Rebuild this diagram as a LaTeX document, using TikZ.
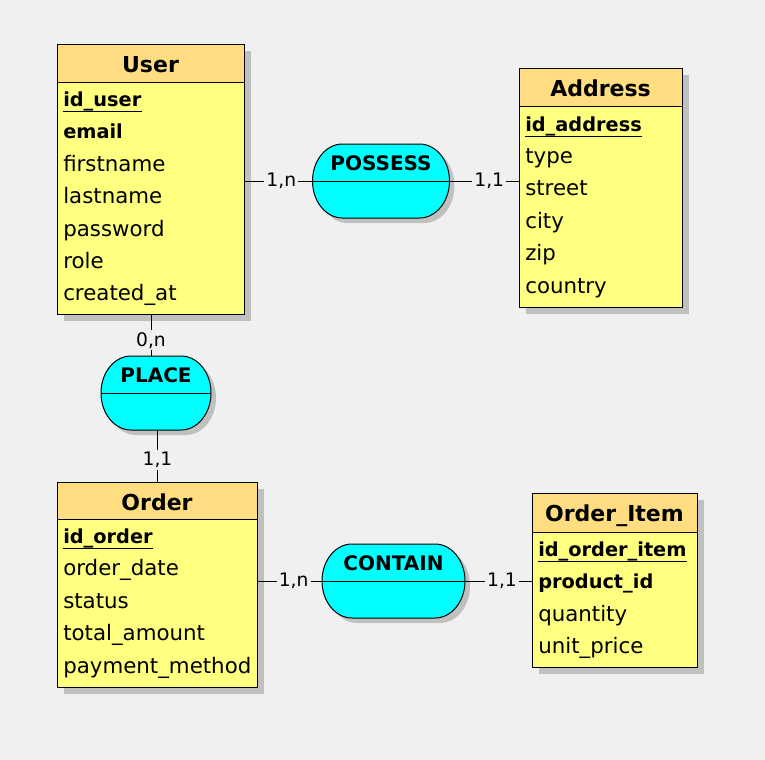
\documentclass[tikz,border=0pt]{standalone}
\usepackage{fontspec}
\setmainfont{DejaVu Sans}
\definecolor{bgc}{HTML}{F0F0F0}
\definecolor{headc}{HTML}{FFDD80}
\definecolor{bodyc}{HTML}{FFFF80}
\definecolor{relc}{HTML}{00FFFF}
\definecolor{shadc}{HTML}{C0C0C0}
\newcommand\relshape[4]{\path[#4] (#1-#3+30,#2-37) -- (#1+#3-30,#2-37)
  arc[start angle=90,end angle=-90,x radius=22.5pt,y radius=27.75pt]
  -- (#1-#3+30,#2+37)
  arc[start angle=270,end angle=90,x radius=22.5pt,y radius=27.75pt] -- cycle;}
\tikzset{
 entbody/.style={rectangle, draw=black, line width=0.75pt, fill=bodyc, inner sep=0, anchor=north west},
 enthead/.style={rectangle, draw=black, line width=0.75pt, fill=headc, inner sep=0, anchor=north west},
 enttitle/.style={font=\fontsize{16.5pt}{18pt}\selectfont\bfseries, anchor=base, inner sep=0},
 fld/.style={font=\fontsize{16pt}{18pt}\selectfont, anchor=base west, inner sep=0},
 keyfld/.style={font=\fontsize{14.5pt}{18pt}\selectfont\bfseries, anchor=base west, inner sep=0},
 relname/.style={font=\fontsize{15pt}{18pt}\selectfont\bfseries, anchor=base, inner sep=0},
 card/.style={font=\fontsize{14pt}{16pt}\selectfont, fill=bgc, inner sep=1.5pt},
 relbox/.style={rectangle, inner sep=0, draw=none},
 conn/.style={line width=0.75pt, black},
 relfill/.style={fill=relc, draw=black, line width=0.75pt},
 shad/.style={fill=shadc},
}
\begin{document}
\begin{tikzpicture}[x=0.75pt,y=-0.75pt]
\fill[bgc] (0,0) rectangle (765,760);
\useasboundingbox (0,0) rectangle (765,760);

% ---------- shadows ----------
\fill[shad] (64,51) rectangle (251,321);
\fill[shad] (526,75) rectangle (689,314);
\fill[shad] (64,489) rectangle (264,694);
\fill[shad] (539,500) rectangle (704,674);
\relshape{386}{186}{68.5}{shad}
\relshape{161}{398}{55}{shad}
\relshape{398.5}{586}{71.5}{shad}

% ---------- User ----------
\node[entbody, minimum width=140.25pt, minimum height=202.5pt] (user) at (57,44) {};
\node[enthead, minimum width=140.25pt, minimum height=28.125pt] (userhead) at (57,44) {};
\node[enttitle] (usertitle) at (150.5,72) {User};
\node[keyfld] (u1) at (63,106.5) {id\_user};
\draw[conn] ([yshift=-3.75pt]u1.base west) -- ([yshift=-3.75pt]u1.base east);
\node[keyfld] (u2) at (63,138.9) {email};
\node[fld] (u3) at (63,171.3) {firstname};
\node[fld] (u4) at (63,203.7) {lastname};
\node[fld] (u5) at (63,236.1) {password};
\node[fld] (u6) at (63,268.5) {role};
\node[fld] (u7) at (63,300.9) {created\_at};

% ---------- Address ----------
\node[entbody, minimum width=122.25pt, minimum height=179.25pt] (address) at (519,68) {};
\node[enthead, minimum width=122.25pt, minimum height=28.5pt] (addresshead) at (519,68) {};
\node[enttitle] (addresstitle) at (600.5,96) {Address};
\node[keyfld] (a1) at (525,131) {id\_address};
\draw[conn] ([yshift=-3.75pt]a1.base west) -- ([yshift=-3.75pt]a1.base east);
\node[fld] (a2) at (525,163.4) {type};
\node[fld] (a3) at (525,195.8) {street};
\node[fld] (a4) at (525,228.2) {city};
\node[fld] (a5) at (525,260.6) {zip};
\node[fld] (a6) at (525,293) {country};

% ---------- Order ----------
\node[entbody, minimum width=150pt, minimum height=153.75pt] (order) at (57,482) {};
\node[enthead, minimum width=150pt, minimum height=27.375pt] (orderhead) at (57,482) {};
\node[enttitle] (ordertitle) at (157,510) {Order};
\node[keyfld] (o1) at (63,543.5) {id\_order};
\draw[conn] ([yshift=-3.75pt]o1.base west) -- ([yshift=-3.75pt]o1.base east);
\node[fld] (o2) at (63,575.9) {order\_date};
\node[fld] (o3) at (63,608.3) {status};
\node[fld] (o4) at (63,640.7) {total\_amount};
\node[fld] (o5) at (63,673.1) {payment\_method};

% ---------- Order_Item ----------
\node[entbody, minimum width=123.75pt, minimum height=130.5pt] (orderitem) at (532,493) {};
\node[enthead, minimum width=123.75pt, minimum height=28.875pt] (orderitemhead) at (532,493) {};
\node[enttitle] (orderitemtitle) at (614.5,521) {Order\_Item};
\node[keyfld] (i1) at (538,556.5) {id\_order\_item};
\draw[conn] ([yshift=-3.75pt]i1.base west) -- ([yshift=-3.75pt]i1.base east);
\node[keyfld] (i2) at (538,588.9) {product\_id};
\node[fld] (i3) at (538,621.3) {quantity};
\node[fld] (i4) at (538,653.7) {unit\_price};

% ---------- Relationships ----------
\node[relbox, minimum width=102.75pt, minimum height=55.5pt] (possess) at (381,181) {};
\relshape{381}{181}{68.5}{relfill}
\draw[conn] (possess.west) -- (possess.east);
\node[relname] (possessname) at (381,170) {POSSESS};

\node[relbox, minimum width=82.5pt, minimum height=55.5pt] (place) at (156,393) {};
\relshape{156}{393}{55}{relfill}
\draw[conn] (place.west) -- (place.east);
\node[relname] (placename) at (156,382.5) {PLACE};

\node[relbox, minimum width=107.25pt, minimum height=55.5pt] (contain) at (393.5,581) {};
\relshape{393.5}{581}{71.5}{relfill}
\draw[conn] (contain.west) -- (contain.east);
\node[relname] (containname) at (393.5,570) {CONTAIN};

% ---------- Connectors ----------
\draw[conn] (user.east |- possess.west) -- node[card,pos=0.54]{1,n} (possess.west);
\draw[conn] (possess.east) -- node[card,pos=0.57]{1,1} (address.west |- possess.east);
\draw[conn] (user.south) -- node[card,pos=0.62]{0,n} (user.south |- place.north);
\draw[conn] (order.north |- place.south) -- node[card,pos=0.58]{1,1} (order.north);
\draw[conn] (order.east |- contain.west) -- node[card,pos=0.56]{1,n} (contain.west);
\draw[conn] (contain.east) -- node[card,pos=0.55]{1,1} (orderitem.west |- contain.east);
\end{tikzpicture}
\end{document}
